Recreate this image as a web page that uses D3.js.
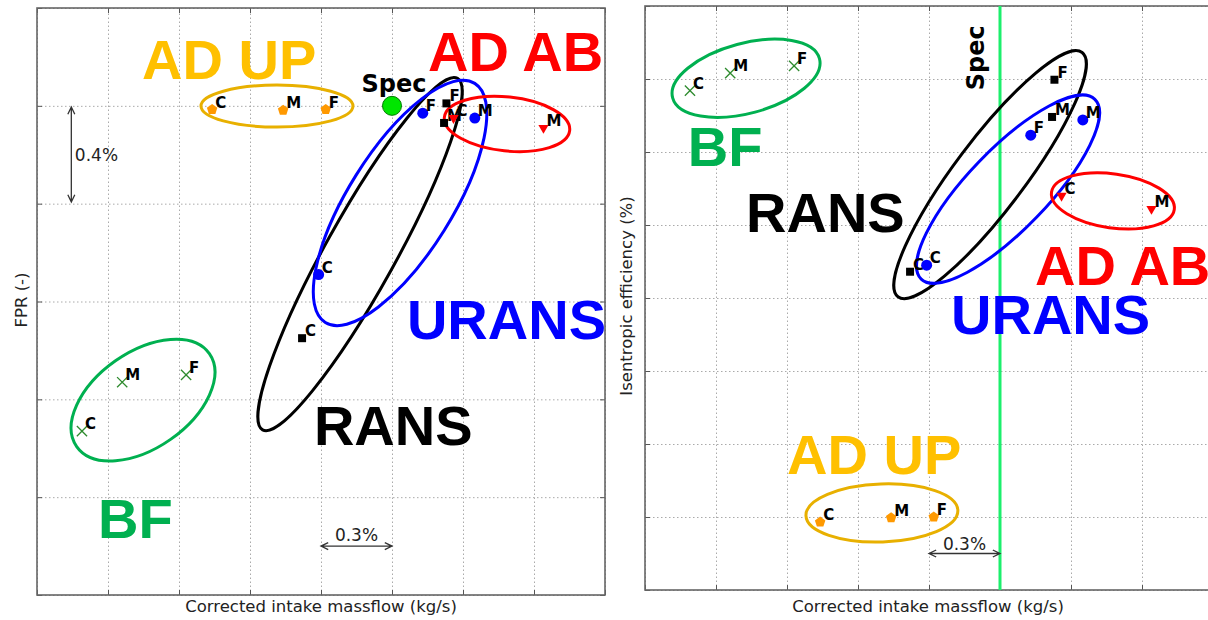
<!DOCTYPE html>
<html>
<head>
<meta charset="utf-8">
<title>Massflow vs FPR / efficiency</title>
<script src="https://d3js.org/d3.v7.min.js"></script>
<style>
  body { margin: 0; background: #fff; }
  .grid line { stroke: #aaa; stroke-dasharray: 1.5,2.5; }
  .grid .domain { display: none; }
  .ticks line { stroke: #555; }
  .ticks .domain, .ticks text { display: none; }
  .frame { fill: none; stroke: #666; stroke-width: 1.6; }
  .axis-label { font-family: "DejaVu Sans", sans-serif; font-size: 16.5px; fill: #222; }
  .pt-label { font-family: "DejaVu Sans", sans-serif; font-weight: bold; font-size: 15px; fill: #000; }
  .big { font-family: "Liberation Sans", Arial, sans-serif; font-weight: bold; font-size: 56px; }
  .note { font-family: "DejaVu Sans", sans-serif; font-size: 17px; fill: #222; }
</style>
</head>
<body>
<div id="chart"></div>
<script>
// mesh levels: coarse, medium, fine
const meshes = ["C", "M", "F"];

// corrected intake massflow, % (same values in both plots)
const massflowBF    = [0.19, 0.36, 0.63];
const massflowRANS  = [1.12, 1.72, 1.73];
const massflowURANS = [1.19, 1.85, 1.63];
const massflowADAB  = [1.76, 2.14];        // C, M only
const massflowADUP  = [0.74, 1.04, 1.22];
const massflowSpec  = 1.5;

// FPR, % (left plot)
const fprBF    = [0.67, 0.87, 0.90];
const fprRANS  = [1.05, 1.93, 2.01];
const fprURANS = [1.31, 1.95, 1.97];
const fprADAB  = [1.95, 1.91];
const fprADUP  = [1.985, 1.982, 1.985];
const fprSpec  = 2.0;

// isentropic efficiency, grid units (right plot)
const effBF    = [6.84, 7.08, 7.18];
const effRANS  = [4.36, 6.48, 6.99];
const effURANS = [4.45, 6.44, 6.23];
const effADAB  = [5.40, 5.22];
const effADUP  = [0.93, 0.99, 1.00];

const series = [
  {name: "BF",    color: "#00b050", mark: "x",        x: massflowBF,    fpr: fprBF,    eff: effBF},
  {name: "RANS",  color: "#000000", mark: "square",   x: massflowRANS,  fpr: fprRANS,  eff: effRANS},
  {name: "URANS", color: "#0000ff", mark: "circle",   x: massflowURANS, fpr: fprURANS, eff: effURANS},
  {name: "AD AB", color: "#ff0000", mark: "triangle", x: massflowADAB,  fpr: fprADAB,  eff: effADAB},
  {name: "AD UP", color: "#ffc000", mark: "pentagon", x: massflowADUP,  fpr: fprADUP,  eff: effADUP}
];

const W = 1208, H = 620;
const svg = d3.select("#chart").append("svg")
  .attr("width", W).attr("height", H);
svg.append("rect").attr("width", W).attr("height", H).attr("fill", "#fff");

// hand drawn group outlines: centre in data units, radii in px, angle in deg
const leftRings = [
  {name: "BF",    cx: 0.448, cy: 0.797, a: 81,  b: 48, angle: -35, color: "#00b050"},
  {name: "RANS",  cx: 1.365, cy: 1.394, a: 201, b: 35, angle: -61, color: "#000000"},
  {name: "URANS", cx: 1.534, cy: 1.603, a: 141, b: 52, angle: -58, color: "#0000ff"},
  {name: "AD AB", cx: 1.986, cy: 1.926, a: 63,  b: 27, angle: 6,   color: "#ff0000"},
  {name: "AD UP", cx: 1.014, cy: 1.999, a: 76,  b: 21, angle: 0,   color: "#e8b000"}
];
const rightRings = [
  {name: "BF",    cx: 0.427, cy: 7.01, a: 76,  b: 35, angle: -15, color: "#00b050"},
  {name: "RANS",  cx: 1.458, cy: 5.69, a: 153, b: 35, angle: -53, color: "#000000"},
  {name: "URANS", cx: 1.534, cy: 5.49, a: 125, b: 40, angle: -46, color: "#0000ff"},
  {name: "AD AB", cx: 1.977, cy: 5.33, a: 62,  b: 27, angle: 8,   color: "#ff0000"},
  {name: "AD UP", cx: 1.001, cy: 1.055, a: 76, b: 29, angle: -2,  color: "#e8b000"}
];
// big group names, left edge / baseline in data units
const leftNames = [
  {name: "AD UP", x: 0.444, y: 2.110, color: "#ffc000"},
  {name: "AD AB", x: 1.652, y: 2.142, color: "#ff0000"},
  {name: "URANS", x: 1.563, y: 1.047, color: "#0000ff"},
  {name: "RANS",  x: 1.170, y: 0.613, color: "#000000"},
  {name: "BF",    x: 0.258, y: 0.233, color: "#00b050"}
];
const rightNames = [
  {name: "BF",    x: 0.181, y: 5.81, color: "#00b050"},
  {name: "RANS",  x: 0.427, y: 4.90, color: "#000000"},
  {name: "AD AB", x: 1.648, y: 4.18, color: "#ff0000"},
  {name: "URANS", x: 1.293, y: 3.51, color: "#0000ff"},
  {name: "AD UP", x: 0.600, y: 1.59, color: "#ffc000"}
];

function pentagon(r) {
  const pts = d3.range(5).map(k => {
    const t = (-90 + 72 * k) * Math.PI / 180;
    return [r * Math.cos(t), r * Math.sin(t)];
  });
  return d3.line()(pts) + "Z";
}

function drawMarks(g, x, y, s, vals) {
  s.x.forEach((mx, i) => {
    const px = x(mx), py = y(vals[i]);
    const m = g.append("g").attr("transform", `translate(${px},${py})`);
    if (s.mark === "x") {
      m.append("path").attr("d", d3.symbol(d3.symbolTimes, 70)())
        .attr("fill", "none").attr("stroke", "#2e8b2e").attr("stroke-width", 1.3);
    } else if (s.mark === "square") {
      m.append("path").attr("d", d3.symbol(d3.symbolSquare, 64)()).attr("fill", "#000");
    } else if (s.mark === "circle") {
      m.append("circle").attr("r", 5.5).attr("fill", "#0000ff");
    } else if (s.mark === "triangle") {
      m.append("path").attr("d", d3.symbol(d3.symbolTriangle, 45)())
        .attr("transform", "rotate(180)").attr("fill", "#ff0000");
    } else {
      m.append("path").attr("d", pentagon(5.5)).attr("fill", "#ff9900");
    }
    g.append("text").attr("class", "pt-label")
      .attr("x", px + 3).attr("y", py - 2)
      .text(meshes[i]);
  });
}

function doubleArrow(g, x1, y1, x2, y2) {
  const ang = Math.atan2(y2 - y1, x2 - x1);
  const head = (px, py, a) => {
    const l = 8, w = 0.45;
    return `M${px + l * Math.cos(a + w)},${py + l * Math.sin(a + w)}L${px},${py}L${px + l * Math.cos(a - w)},${py + l * Math.sin(a - w)}`;
  };
  g.append("path")
    .attr("d", `M${x1},${y1}L${x2},${y2}` + head(x1, y1, ang) + head(x2, y2, ang + Math.PI))
    .attr("fill", "none").attr("stroke", "#333").attr("stroke-width", 1.3);
}

function panel(opt) {
  const g = svg.append("g");
  const x = d3.scaleLinear().domain(opt.xDomain).range([opt.left, opt.right]);
  const y = d3.scaleLinear().domain(opt.yDomain).range([opt.bottom, opt.top]);
  const w = opt.right - opt.left, h = opt.bottom - opt.top;

  // dotted grid
  g.append("g").attr("class", "grid")
    .attr("transform", `translate(0,${opt.bottom})`)
    .call(d3.axisBottom(x).tickValues(opt.xTicks).tickSize(-h).tickFormat(""));
  g.append("g").attr("class", "grid")
    .attr("transform", `translate(${opt.left},0)`)
    .call(d3.axisLeft(y).tickValues(opt.yTicks).tickSize(-w).tickFormat(""));

  // inward tick marks on all four sides
  g.append("g").attr("class", "ticks").attr("transform", `translate(0,${opt.bottom})`)
    .call(d3.axisBottom(x).tickValues(opt.xTicks).tickSize(-5));
  g.append("g").attr("class", "ticks").attr("transform", `translate(0,${opt.top})`)
    .call(d3.axisTop(x).tickValues(opt.xTicks).tickSize(-5));
  g.append("g").attr("class", "ticks").attr("transform", `translate(${opt.left},0)`)
    .call(d3.axisLeft(y).tickValues(opt.yTicks).tickSize(-5));
  g.append("g").attr("class", "ticks").attr("transform", `translate(${opt.right},0)`)
    .call(d3.axisRight(y).tickValues(opt.yTicks).tickSize(-5));

  g.append("rect").attr("class", "frame")
    .attr("x", opt.left).attr("y", opt.top).attr("width", w).attr("height", h);

  opt.extra(g, x, y);

  // group outlines
  g.selectAll("ellipse.ring").data(opt.rings).join("ellipse")
    .attr("class", "ring")
    .attr("transform", d => `translate(${x(d.cx)},${y(d.cy)}) rotate(${d.angle})`)
    .attr("rx", d => d.a).attr("ry", d => d.b)
    .attr("fill", "none").attr("stroke", d => d.color).attr("stroke-width", 3);

  series.forEach(s => drawMarks(g, x, y, s, s[opt.key]));

  g.selectAll("text.big").data(opt.names).join("text")
    .attr("class", "big")
    .attr("x", d => x(d.x)).attr("y", d => y(d.y))
    .attr("fill", d => d.color)
    .text(d => d.name);

  // axis titles
  g.append("text").attr("class", "axis-label")
    .attr("x", opt.xLabelX).attr("y", 612).attr("text-anchor", "middle")
    .text("Corrected intake massflow (kg/s)");
  g.append("text").attr("class", "axis-label")
    .attr("transform", `translate(${opt.yLabelX},${opt.yLabelY}) rotate(-90)`)
    .attr("text-anchor", "middle")
    .text(opt.yLabel);
  return g;
}

// left: FPR
panel({
  left: 37, right: 605, top: 8, bottom: 595,
  xDomain: [0, 2.4], yDomain: [0, 2.4],
  xTicks: d3.range(0, 2.41, 0.3), yTicks: d3.range(0, 2.41, 0.4),
  key: "fpr", rings: leftRings, names: leftNames,
  xLabelX: 321, yLabelX: 27, yLabelY: 300, yLabel: "FPR (-)",
  extra: (g, x, y) => {
    doubleArrow(g, x(0.145), y(1.995), x(0.145), y(1.607));
    g.append("text").attr("class", "note").attr("x", x(0.16)).attr("y", y(1.774)).text("0.4%");
    doubleArrow(g, x(1.2), y(0.2), x(1.5), y(0.2));
    g.append("text").attr("class", "note").attr("x", x(1.35)).attr("y", y(0.2) - 5)
      .attr("text-anchor", "middle").text("0.3%");
    // design point
    g.append("circle").attr("cx", x(massflowSpec)).attr("cy", y(fprSpec)).attr("r", 9.5)
      .attr("fill", "#00e600").attr("stroke", "#007a00").attr("stroke-width", 1);
    g.append("text").attr("x", x(massflowSpec) + 2).attr("y", y(fprSpec) - 14)
      .attr("text-anchor", "middle")
      .style("font-family", "DejaVu Sans, sans-serif").style("font-weight", "bold")
      .style("font-size", "24px").text("Spec");
  }
});

// right: isentropic efficiency
panel({
  left: 645, right: 1213, top: 6, bottom: 590,
  xDomain: [0, 2.4], yDomain: [0, 8],
  xTicks: d3.range(0, 2.41, 0.3), yTicks: d3.range(0, 8.01, 1),
  key: "eff", rings: rightRings, names: rightNames,
  xLabelX: 928, yLabelX: 632, yLabelY: 296, yLabel: "Isentropic efficiency (%)",
  extra: (g, x, y) => {
    g.append("line").attr("x1", x(massflowSpec)).attr("x2", x(massflowSpec))
      .attr("y1", y(8)).attr("y2", y(0))
      .attr("stroke", "#1cef6c").attr("stroke-width", 3);
    g.append("text")
      .attr("transform", `translate(${x(massflowSpec) - 16},${y(7.29)}) rotate(-90)`)
      .attr("text-anchor", "middle")
      .style("font-family", "DejaVu Sans, sans-serif").style("font-weight", "bold")
      .style("font-size", "24px").text("Spec");
    doubleArrow(g, x(1.2), y(0.5), x(1.5), y(0.5));
    g.append("text").attr("class", "note").attr("x", x(1.35)).attr("y", y(0.5) - 4)
      .attr("text-anchor", "middle").text("0.3%");
  }
});
</script>
</body>
</html>
